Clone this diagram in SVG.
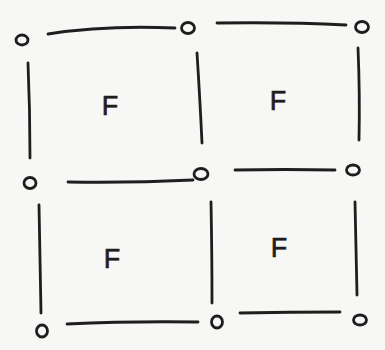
<svg xmlns="http://www.w3.org/2000/svg" width="385" height="350" viewBox="0 0 385 350">
<style>
.n{fill:none;stroke:#1e1e1e;stroke-width:2.8}
.e{fill:none;stroke:#1e1e1e;stroke-width:2.8;stroke-linecap:round}
.f{font-family:"Liberation Sans",Arial,sans-serif;font-size:27px;fill:#1e1e1e;stroke:#1e1e1e;stroke-width:0.6;text-anchor:middle}
</style>
<rect width="385" height="350" fill="#f7f7f5"/>
<g id="edges">
<path class="e" d="M48,34 Q105,25 175,28"/>
<path class="e" d="M217,23 Q290,22 346,25"/>
<path class="e" d="M28,63 Q30,110 30,158"/>
<path class="e" d="M197,53 Q200,100 202,143"/>
<path class="e" d="M358,48 Q360,95 359,140"/>
<path class="e" d="M68,182 Q130,183 193,180"/>
<path class="e" d="M235,170 Q285,169 335,170"/>
<path class="e" d="M39,205 Q40,260 41,313"/>
<path class="e" d="M211,202 Q212,255 212,303"/>
<path class="e" d="M355,202 Q356,250 357,295"/>
<path class="e" d="M67,324 Q130,321 198,322"/>
<path class="e" d="M240,313 Q290,312 340,312"/>
</g>
<g id="n1"><ellipse class="n" cx="22" cy="40" rx="6" ry="5"/></g>
<g id="n2"><ellipse class="n" cx="188" cy="28" rx="6.5" ry="5.5"/></g>
<g id="n3"><ellipse class="n" cx="362" cy="27" rx="6.5" ry="5.5"/></g>
<g id="n4"><ellipse class="n" cx="30" cy="183" rx="6" ry="5.5"/></g>
<g id="n5"><ellipse class="n" cx="201" cy="174" rx="7" ry="5.5"/></g>
<g id="n6"><ellipse class="n" cx="353" cy="170" rx="6.5" ry="5"/></g>
<g id="n7"><ellipse class="n" cx="42" cy="331" rx="5.5" ry="6"/></g>
<g id="n8"><ellipse class="n" cx="217" cy="322" rx="5.5" ry="6"/></g>
<g id="n9"><ellipse class="n" cx="360" cy="320" rx="6.5" ry="5"/></g>
<g id="f1"><text class="f" x="110" y="115">F</text></g>
<g id="f2"><text class="f" x="278" y="110">F</text></g>
<g id="f3"><text class="f" x="112" y="268">F</text></g>
<g id="f4"><text class="f" x="279" y="257">F</text></g>
</svg>
